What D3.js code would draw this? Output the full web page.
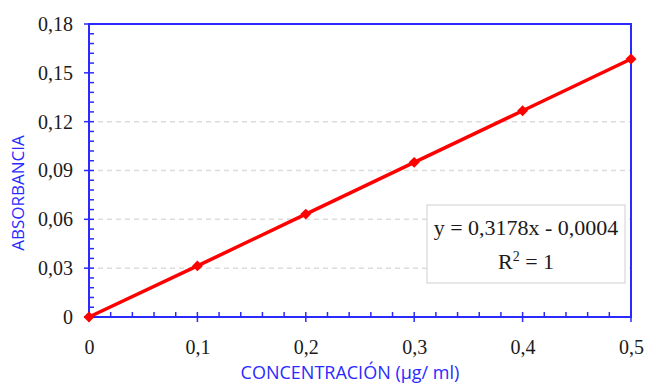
<!DOCTYPE html>
<html><head><meta charset="utf-8">
<script src="https://cdn.jsdelivr.net/npm/d3@7"></script>
<style>body{margin:0;background:#fff}svg{display:block}</style>
</head><body>
<svg id="c" width="646" height="386"></svg>
<script>
const concentration = [0, 0.1, 0.2, 0.3, 0.4, 0.5];
const absorbance = [0, 0.0314, 0.0632, 0.0950, 0.1267, 0.1585];
const xTicks = [0, 0.1, 0.2, 0.3, 0.4, 0.5];
const yTicks = [0, 0.03, 0.06, 0.09, 0.12, 0.15, 0.18];
const gridTicks = [0.03, 0.06, 0.09, 0.12];
const equationText = "y = 0,3178x - 0,0004";

const svg = d3.select("#c");
const L = 89, R = 631, T = 24, B = 317;
const x = d3.scaleLinear().domain([0, 0.5]).range([L, R]);
const y = d3.scaleLinear().domain([0, 0.18]).range([B, T]);
const fmt = d => d === 0 ? "0" : d3.format(".2~f")(d).replace(".", ",");
const fmtY = d => d === 0 ? "0" : d3.format(".2f")(d).replace(".", ",");
const blue = "#2a2aff";
const serif = '"Liberation Serif","Times New Roman",serif';

// grid
svg.append("g").selectAll("line").data(gridTicks).join("line")
  .attr("x1", L).attr("x2", R).attr("y1", d => y(d)).attr("y2", d => y(d))
  .attr("stroke", "#dcdcdc").attr("stroke-width", 1.5).attr("stroke-dasharray", "5,4");

// frame
svg.append("rect").attr("x", L).attr("y", T).attr("width", R - L).attr("height", B - T)
  .attr("fill", "none").attr("stroke", blue).attr("stroke-width", 2);

// y axis
const yAxis = d3.axisLeft(y).tickValues(yTicks).tickFormat(fmtY).tickSize(0).tickPadding(16);
const gy = svg.append("g").attr("transform", `translate(${L},0)`).call(yAxis)
  .attr("font-family", null).attr("font-size", null);
gy.select(".domain").remove();
gy.selectAll("text").style("font-family", serif).style("font-size", "20px").attr("fill", "#1a1a1a");
svg.append("g").selectAll("line").data(yTicks).join("line")
  .attr("x1", L - 5).attr("x2", L + 5).attr("y1", d => y(d)).attr("y2", d => y(d))
  .attr("stroke", blue).attr("stroke-width", 1.5);
const yMinor = d3.range(0, 0.18001, 0.006).filter((d, i) => i % 5 !== 0);
svg.append("g").selectAll("line").data(yMinor).join("line")
  .attr("x1", L).attr("x2", L + 5).attr("y1", d => y(d)).attr("y2", d => y(d))
  .attr("stroke", blue).attr("stroke-width", 1.5);

// x axis
const xAxis = d3.axisBottom(x).tickValues(xTicks).tickFormat(fmt).tickSize(0).tickPadding(23);
const gx = svg.append("g").attr("transform", `translate(0,${B})`).call(xAxis)
  .attr("font-family", null).attr("font-size", null);
gx.select(".domain").remove();
gx.selectAll("text").style("font-family", serif).style("font-size", "20px").attr("fill", "#1a1a1a");
svg.append("g").selectAll("line").data(xTicks).join("line")
  .attr("x1", d => x(d)).attr("x2", d => x(d)).attr("y1", B - 5).attr("y2", B + 5)
  .attr("stroke", blue).attr("stroke-width", 1.5);
const xMinor = d3.range(0, 0.50001, 0.02).filter((d, i) => i % 5 !== 0);
svg.append("g").selectAll("line").data(xMinor).join("line")
  .attr("x1", d => x(d)).attr("x2", d => x(d)).attr("y1", B - 5).attr("y2", B)
  .attr("stroke", blue).attr("stroke-width", 1.5);

// axis titles
svg.append("text").attr("transform", `translate(24,193) rotate(-90)`)
  .attr("text-anchor", "middle").style("font-family", '"Open Sans",sans-serif')
  .style("font-size", "17px").attr("fill", blue).text("ABSORBANCIA");
svg.append("text").attr("x", 350).attr("y", 379)
  .attr("text-anchor", "middle").style("font-family", '"Open Sans",sans-serif')
  .style("font-size", "18px").attr("fill", blue).text("CONCENTRACIÓN (µg/ ml)");

// line
const pts = concentration.map((c, i) => [c, absorbance[i]]);
svg.append("path").datum(pts)
  .attr("d", d3.line().x(d => x(d[0])).y(d => y(d[1])))
  .attr("fill", "none").attr("stroke", "#ff0000").attr("stroke-width", 3.5);
svg.append("g").selectAll("path").data(pts).join("path")
  .attr("transform", d => `translate(${x(d[0])},${y(d[1])}) rotate(45)`)
  .attr("d", d3.symbol(d3.symbolSquare, 60))
  .attr("fill", "#ff0000");

// equation box
const bx = 427, by = 205, bw = 198, bh = 78;
svg.append("rect").attr("x", bx).attr("y", by).attr("width", bw).attr("height", bh)
  .attr("fill", "#fff").attr("stroke", "#d8d8d8").attr("stroke-width", 1.2);
svg.append("text").attr("x", bx + bw / 2).attr("y", by + 30)
  .attr("text-anchor", "middle").style("font-family", serif)
  .style("font-size", "22px").attr("fill", "#1a1a1a").text(equationText);
const r2 = svg.append("text").attr("x", bx + bw / 2).attr("y", by + 64)
  .attr("text-anchor", "middle").style("font-family", serif)
  .style("font-size", "22px").attr("fill", "#1a1a1a");
r2.append("tspan").text("R");
r2.append("tspan").attr("dy", -8).style("font-size", "14px").text("2");
r2.append("tspan").attr("dy", 8).text(" = 1");
</script>
</body></html>
